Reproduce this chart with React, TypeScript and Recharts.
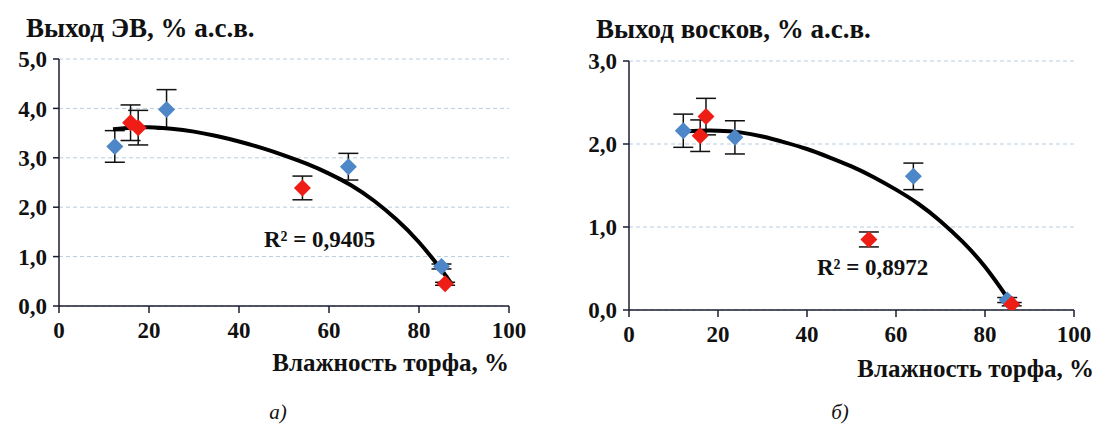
import React from 'react';
import { ComposedChart, Scatter, Line, XAxis, YAxis, CartesianGrid, ErrorBar } from 'recharts';

// (a) yield of extractives vs peat moisture
const evBlueX = [12.4, 23.9, 64.3, 85.0];
const evBlueY = [3.23, 3.98, 2.82, 0.8];
const evBlueErr = [0.32, 0.4, 0.27, 0.05];
const evRedX = [15.9, 17.6, 54.1, 85.8];
const evRedY = [3.71, 3.61, 2.39, 0.45];
const evRedErr = [0.36, 0.35, 0.24, 0.03];
const evTrendX = [12, 16, 20, 25, 30, 35, 40, 45, 50, 55, 60, 65, 70, 75, 80, 85, 87.3];
const evTrendY = [3.58, 3.61, 3.62, 3.59, 3.53, 3.44, 3.33, 3.2, 3.05, 2.88, 2.68, 2.44, 2.13, 1.75, 1.29, 0.73, 0.44];

// (б) yield of waxes vs peat moisture
const waxBlueX = [12.2, 23.8, 63.9, 85.0];
const waxBlueY = [2.16, 2.08, 1.61, 0.12];
const waxBlueErr = [0.2, 0.2, 0.16, 0.03];
const waxRedX = [16.0, 17.3, 53.9, 86.0];
const waxRedY = [2.1, 2.33, 0.85, 0.07];
const waxRedErr = [0.19, 0.22, 0.09, 0.02];
const waxTrendX = [12, 16, 20, 25, 30, 35, 40, 45, 50, 55, 60, 65, 70, 75, 80, 85, 86.5];
const waxTrendY = [2.15, 2.16, 2.16, 2.14, 2.09, 2.02, 1.94, 1.84, 1.73, 1.6, 1.45, 1.28, 1.07, 0.82, 0.52, 0.15, 0.03];

const xTicks = [0, 20, 40, 60, 80, 100];
const evTicks = [0, 1, 2, 3, 4, 5];
const waxTicks = [0, 1, 2, 3];

const BLUE = '#4d87c7';
const RED = '#ee1e16';
const AXIS = '#1c1c30';
const FONT = 'Liberation Serif';

const pts = (xs: number[], ys: number[], errs?: number[]) =>
  xs.map((x, i) => ({ x, y: ys[i], err: errs ? errs[i] : 0 }));

const Diamond = (props: any) => {
  const { cx, cy, fill } = props;
  const r = 8.5;
  return <polygon points={`${cx},${cy - r} ${cx + r},${cy} ${cx},${cy + r} ${cx - r},${cy}`} fill={fill} />;
};

const tickStyle = { fill: '#111', fontSize: 23, fontWeight: 'bold', fontFamily: FONT };
const comma = (v: number) => v.toFixed(1).replace('.', ',');

interface PanelProps {
  left: number;
  width: number;
  margin: { top: number; right: number; bottom: number; left: number };
  yMax: number;
  yTicks: number[];
  blue: { x: number; y: number; err: number }[];
  red: { x: number; y: number; err: number }[];
  trend: { x: number; y: number; err: number }[];
}

const Panel = ({ left, width, margin, yMax, yTicks, blue, red, trend }: PanelProps) => (
  <div style={{ position: 'absolute', left, top: 0 }}>
    <ComposedChart width={width} height={435} margin={margin}>
      <CartesianGrid horizontal vertical={false} stroke="#b7cddd" strokeDasharray="4 3" />
      <XAxis
        type="number"
        dataKey="x"
        domain={[0, 100]}
        ticks={xTicks}
        tick={tickStyle}
        tickSize={7}
        tickMargin={9}
        height={30}
        axisLine={{ stroke: AXIS, strokeWidth: 1.5 }}
        tickLine={{ stroke: AXIS, strokeWidth: 1.5 }}
        allowDataOverflow
      />
      <YAxis
        type="number"
        dataKey="y"
        domain={[0, yMax]}
        ticks={yTicks}
        tickFormatter={comma}
        tick={tickStyle}
        tickSize={6}
        tickMargin={6}
        width={50}
        axisLine={{ stroke: AXIS, strokeWidth: 1.5 }}
        tickLine={{ stroke: AXIS, strokeWidth: 1.5 }}
        allowDataOverflow
      />
      <Scatter data={blue} dataKey="y" fill={BLUE} shape={<Diamond />} isAnimationActive={false}>
        <ErrorBar dataKey="err" direction="y" width={10} stroke="#111" strokeWidth={1.5} />
      </Scatter>
      <Scatter data={red} dataKey="y" fill={RED} shape={<Diamond />} isAnimationActive={false}>
        <ErrorBar dataKey="err" direction="y" width={10} stroke="#111" strokeWidth={1.5} />
      </Scatter>
      <Line
        data={trend}
        dataKey="y"
        type="natural"
        stroke="#000"
        strokeWidth={4}
        dot={false}
        activeDot={false}
        isAnimationActive={false}
      />
    </ComposedChart>
  </div>
);

export default function App() {
  const boldText = { fontFamily: FONT, fontWeight: 'bold', fill: '#111' } as const;
  return (
    <div style={{ position: 'absolute', left: 0, top: 0, width: 1096, height: 435, background: '#fff' }}>
      <Panel
        left={0}
        width={540}
        margin={{ top: 59, right: 31, bottom: 99, left: 9 }}
        yMax={5}
        yTicks={evTicks}
        blue={pts(evBlueX, evBlueY, evBlueErr)}
        red={pts(evRedX, evRedY, evRedErr)}
        trend={pts(evTrendX, evTrendY)}
      />
      <Panel
        left={560}
        width={536}
        margin={{ top: 61, right: 22, bottom: 95, left: 19 }}
        yMax={3}
        yTicks={waxTicks}
        blue={pts(waxBlueX, waxBlueY, waxBlueErr)}
        red={pts(waxRedX, waxRedY, waxRedErr)}
        trend={pts(waxTrendX, waxTrendY)}
      />
      <svg width={1096} height={435} style={{ position: 'absolute', left: 0, top: 0, pointerEvents: 'none' }}>
        <text x={26} y={37} fontSize={27} {...boldText}>Выход ЭВ, % а.с.в.</text>
        <text x={596} y={38} fontSize={27} {...boldText}>Выход восков, % а.с.в.</text>
        <text x={509} y={371} fontSize={25} textAnchor="end" {...boldText}>Влажность торфа, %</text>
        <text x={1094} y={377} fontSize={25} textAnchor="end" {...boldText}>Влажность торфа, %</text>
        <text x={264} y={247} fontSize={23} {...boldText}>R² = 0,9405</text>
        <text x={817} y={275} fontSize={23} {...boldText}>R² = 0,8972</text>
        <text x={278} y={419} fontSize={21} fontStyle="italic" textAnchor="middle" fontFamily={FONT} fill="#111">а)</text>
        <text x={840} y={419} fontSize={21} fontStyle="italic" textAnchor="middle" fontFamily={FONT} fill="#111">б)</text>
      </svg>
    </div>
  );
}
